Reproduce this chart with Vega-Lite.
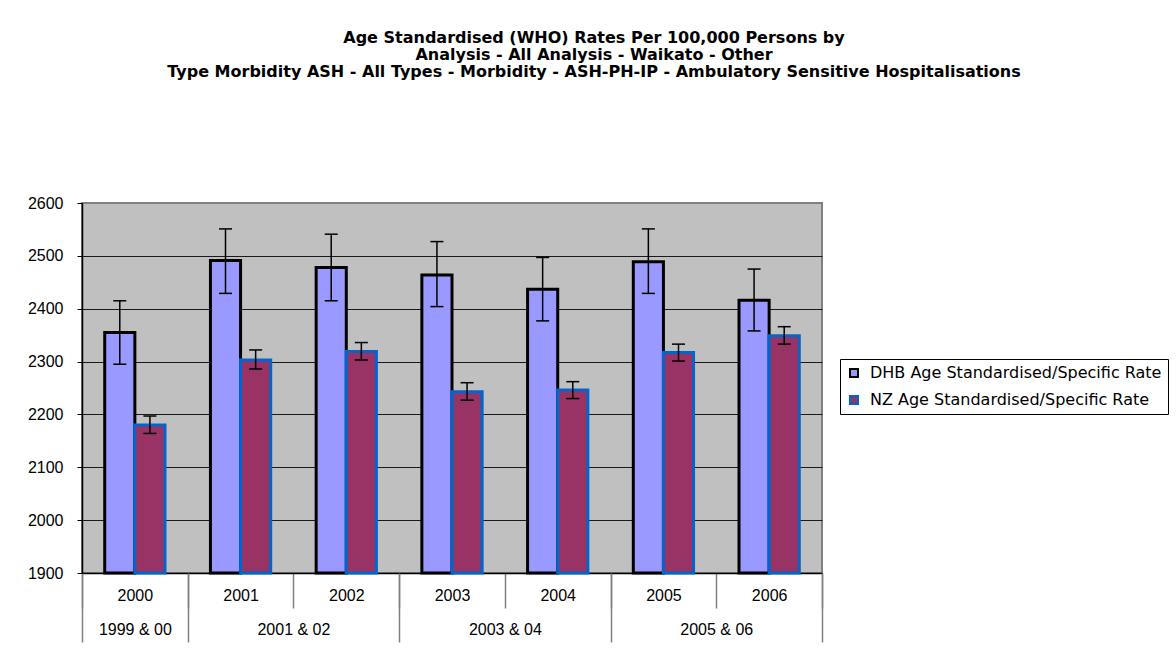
{
  "$schema": "https://vega.github.io/schema/vega-lite/v6.json",
  "width": 740,
  "height": 370,
  "autosize": {"type": "none"},
  "padding": {"left": 82, "top": 203, "right": 354, "bottom": 82},
  "background": "white",
  "title": {
    "text": [
      "Age Standardised (WHO) Rates Per 100,000 Persons by",
      "Analysis - All Analysis - Waikato - Other",
      "Type Morbidity ASH - All Types - Morbidity - ASH-PH-IP - Ambulatory Sensitive Hospitalisations"
    ],
    "anchor": "middle",
    "frame": "group",
    "dx": 142,
    "offset": 115,
    "font": "DejaVu Sans",
    "fontSize": 16,
    "fontWeight": "bold",
    "lineHeight": 17,
    "color": "black"
  },
  "config": {
    "view": {"fill": "#C0C0C0", "stroke": "#808080", "strokeWidth": 2},
    "font": "Liberation Sans",
    "axis": {"labelFont": "Liberation Sans", "labelFontSize": 16, "labelColor": "black"}
  },
  "data": {
    "values": [
      {"year": "2000", "series": "DHB Age Standardised/Specific Rate", "value": 2355, "low": 2295, "high": 2415},
      {"year": "2001", "series": "DHB Age Standardised/Specific Rate", "value": 2491, "low": 2429, "high": 2551},
      {"year": "2002", "series": "DHB Age Standardised/Specific Rate", "value": 2478, "low": 2415, "high": 2541},
      {"year": "2003", "series": "DHB Age Standardised/Specific Rate", "value": 2464, "low": 2404, "high": 2527},
      {"year": "2004", "series": "DHB Age Standardised/Specific Rate", "value": 2437, "low": 2377, "high": 2497},
      {"year": "2005", "series": "DHB Age Standardised/Specific Rate", "value": 2489, "low": 2429, "high": 2551},
      {"year": "2006", "series": "DHB Age Standardised/Specific Rate", "value": 2416, "low": 2358, "high": 2475},
      {"year": "2000", "series": "NZ Age Standardised/Specific Rate", "value": 2180, "low": 2164, "high": 2197},
      {"year": "2001", "series": "NZ Age Standardised/Specific Rate", "value": 2303, "low": 2286, "high": 2322},
      {"year": "2002", "series": "NZ Age Standardised/Specific Rate", "value": 2319, "low": 2303, "high": 2336},
      {"year": "2003", "series": "NZ Age Standardised/Specific Rate", "value": 2243, "low": 2227, "high": 2260},
      {"year": "2004", "series": "NZ Age Standardised/Specific Rate", "value": 2246, "low": 2230, "high": 2262},
      {"year": "2005", "series": "NZ Age Standardised/Specific Rate", "value": 2317, "low": 2301, "high": 2333},
      {"year": "2006", "series": "NZ Age Standardised/Specific Rate", "value": 2349, "low": 2333, "high": 2366}
    ]
  },
  "resolve": {"axis": {"x": "independent"}},
  "layer": [
    {
      "mark": {"type": "bar", "strokeWidth": 3},
      "encoding": {
        "x": {
          "field": "year",
          "type": "nominal",
          "scale": {"paddingInner": 0, "paddingOuter": 0},
          "axis": {
            "title": null,
            "orient": "bottom",
            "labelAngle": 0,
            "tickBand": "extent",
            "tickSize": 35,
            "tickColor": "#808080",
            "tickWidth": 1.5,
            "domainColor": "black",
            "domainWidth": 1.5,
            "labelBaseline": "middle",
            "labelPadding": -13,
            "grid": false
          }
        },
        "xOffset": {
          "field": "series",
          "type": "nominal",
          "scale": {"domain": ["DHB Age Standardised/Specific Rate", "NZ Age Standardised/Specific Rate"], "paddingInner": 0, "paddingOuter": 0.754}
        },
        "y": {
          "field": "value",
          "type": "quantitative",
          "title": null,
          "scale": {"domain": [1900, 2600], "zero": false, "nice": false},
          "axis": {
            "title": null,
            "format": "d",
            "values": [1900, 2000, 2100, 2200, 2300, 2400, 2500, 2600],
            "tickSize": 5,
            "tickColor": "black",
            "labelPadding": 14,
            "domainColor": "black",
            "domainWidth": 1.5,
            "grid": true,
            "gridColor": "#1a1a1a",
            "gridWidth": 1,
            "gridOpacity": {"condition": {"test": "datum.value === 2600", "value": 0}, "value": 1}
          }
        },
        "y2": {"datum": 1900},
        "fill": {
          "field": "series",
          "type": "nominal",
          "scale": {"domain": ["DHB Age Standardised/Specific Rate", "NZ Age Standardised/Specific Rate"], "range": ["#9999FF", "#993366"]},
          "legend": {
            "title": null,
            "orient": "none",
            "legendX": 758,
            "legendY": 156,
            "symbolType": "square",
            "symbolSize": 64,
            "symbolStrokeWidth": 2,
            "labelFontSize": 16,
            "labelFont": "DejaVu Sans",
            "labelColor": "black",
            "strokeColor": "black",
            "fillColor": "white",
            "padding": 6,
            "rowPadding": 11,
            "labelOffset": 8,
            "labelLimit": 400
          }
        },
        "stroke": {
          "field": "series",
          "type": "nominal",
          "scale": {"domain": ["DHB Age Standardised/Specific Rate", "NZ Age Standardised/Specific Rate"], "range": ["#000000", "#0066CC"]},
          "legend": {
            "title": null,
            "orient": "none",
            "legendX": 758,
            "legendY": 156,
            "symbolType": "square",
            "symbolSize": 64,
            "symbolStrokeWidth": 2,
            "labelFontSize": 16,
            "labelFont": "DejaVu Sans",
            "labelColor": "black",
            "strokeColor": "black",
            "fillColor": "white",
            "padding": 6,
            "rowPadding": 11,
            "labelOffset": 8,
            "labelLimit": 400
          }
        }
      }
    },
    {
      "mark": {"type": "rule", "color": "black", "strokeWidth": 1.5},
      "encoding": {
        "x": {
          "field": "year",
          "type": "nominal",
          "axis": {
            "title": null,
            "orient": "bottom",
            "values": ["2000", "2002", "2004", "2006"],
            "tickBand": "extent",
            "tickSize": 69,
            "tickColor": "#808080",
            "tickWidth": 1.5,
            "domain": false,
            "grid": false,
            "labelAngle": 0,
            "labelBaseline": "middle",
            "labelPadding": -13,
            "labelExpr": "datum.value === '2000' ? '1999 & 00' : datum.value === '2002' ? '2001 & 02' : datum.value === '2004' ? '2003 & 04' : datum.value === '2006' ? '2005 & 06' : ''",
            "labelOffset": {"condition": {"test": "datum.value === '2000'", "value": 0}, "value": -52.86}
          }
        },
        "xOffset": {"field": "series", "type": "nominal"},
        "y": {"field": "low", "type": "quantitative", "title": null},
        "y2": {"field": "high"}
      }
    },
    {
      "mark": {"type": "tick", "color": "black", "thickness": 1.5, "size": 13, "opacity": 1},
      "encoding": {
        "x": {"field": "year", "type": "nominal", "axis": null},
        "xOffset": {"field": "series", "type": "nominal"},
        "y": {"field": "low", "type": "quantitative", "title": null}
      }
    },
    {
      "mark": {"type": "tick", "color": "black", "thickness": 1.5, "size": 13, "opacity": 1},
      "encoding": {
        "x": {"field": "year", "type": "nominal", "axis": null},
        "xOffset": {"field": "series", "type": "nominal"},
        "y": {"field": "high", "type": "quantitative", "title": null}
      }
    }
  ]
}
